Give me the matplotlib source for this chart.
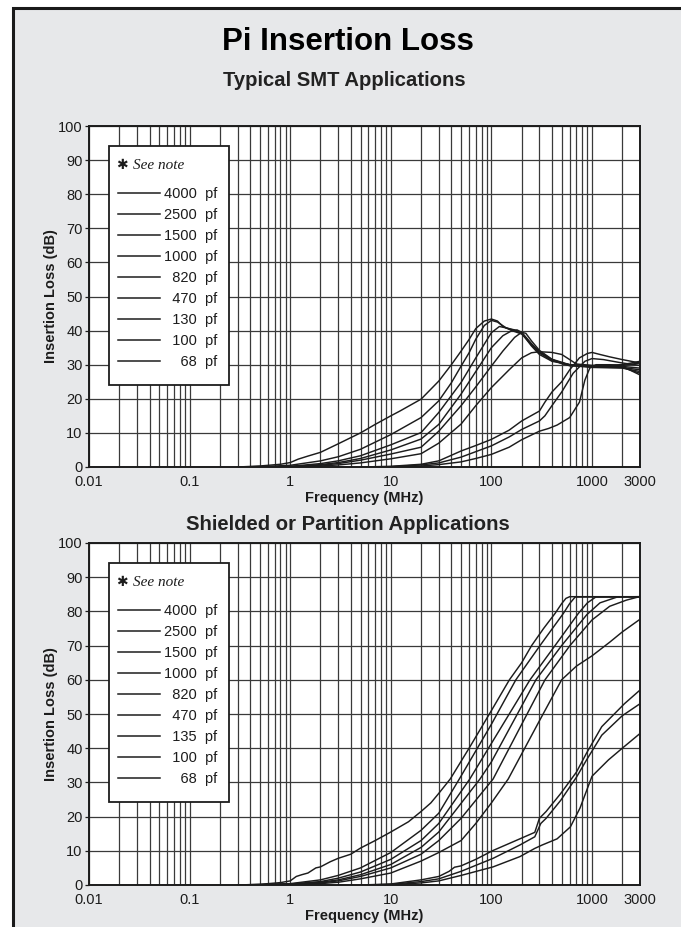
import numpy as np
import matplotlib
matplotlib.use('Agg')
import matplotlib.pyplot as plt
from matplotlib.patches import Rectangle
from matplotlib.ticker import LogLocator, NullFormatter

plt.rcParams['font.family'] = ['Liberation Sans', 'DejaVu Sans']

# curves: (frequency MHz, insertion loss dB)
# --- Typical SMT Applications ---
smt_4000 = [(0.3, 0), (0.5, 0.3), (0.8, 0.8), (1, 1.3), (1.2, 2.3), (1.5, 3.2), (2, 4.3), (3, 6.8),
            (5, 10), (7, 12.5), (10, 15), (12.3, 16.4), (20, 19.9), (30, 25.2), (40, 30), (50, 34),
            (60, 37.4), (70, 40.6), (85, 42.8), (100, 43.4), (115, 42.8), (130, 41.2), (160, 40),
            (200, 39), (250, 36), (300, 33.5), (400, 31.5), (500, 30.3), (600, 29.7), (800, 29.5),
            (1000, 29.6), (2000, 29.5), (3000, 29)]
smt_2500 = [(0.3, 0), (0.6, 0.2), (1, 0.5), (2, 1.8), (3, 3), (5, 5.2), (10, 9.5), (20, 14.5),
            (30, 19.4), (40, 24.7), (50, 29.6), (60, 33.5), (70, 37.5), (85, 41.5), (100, 43),
            (115, 42.5), (140, 40.8), (170, 40), (200, 39.2), (250, 35.5), (300, 33), (400, 31),
            (600, 30), (1000, 29.7), (2000, 29.8), (3000, 30.5)]
smt_1500 = [(0.4, 0), (1, 0.2), (2, 1), (3, 1.8), (5, 3.3), (10, 6.5), (20, 10.1), (30, 16),
            (50, 24.8), (70, 32), (100, 39.4), (120, 41.2), (140, 40.8), (170, 40.2), (200, 39.4),
            (250, 35.8), (300, 33.5), (400, 31.2), (600, 30), (1000, 29.5), (2000, 29.2), (3000, 28.5)]
smt_1000 = [(0.5, 0), (1, 0.1), (2, 0.7), (3, 1.3), (5, 2.5), (10, 5), (20, 8.2), (30, 12.5),
            (50, 21.4), (70, 28), (100, 35), (130, 38.5), (160, 40), (180, 40.2), (200, 39.5),
            (250, 36.2), (300, 33.8), (400, 31.5), (600, 29.8), (1000, 29.2), (2000, 29), (3000, 28)]
smt_820 = [(0.5, 0), (1, 0.1), (2, 0.5), (3, 1), (5, 2), (10, 3.8), (20, 5.8), (30, 10.5),
           (50, 18), (70, 23.5), (100, 29.6), (130, 34), (170, 38), (200, 39.5), (220, 39.2),
           (250, 37), (300, 34.2), (400, 31.6), (600, 30), (1000, 29.3), (2000, 29.2), (3000, 27.5)]
smt_470 = [(0.5, 0), (1, 0), (2, 0.3), (3, 0.6), (5, 1.2), (10, 2.4), (20, 3.9), (30, 7),
           (50, 12.6), (70, 18), (100, 23.3), (150, 28.5), (200, 32), (250, 33.5), (300, 33.8),
           (400, 33.6), (500, 33), (600, 31.5), (700, 30.2), (1000, 29.8), (2000, 30), (3000, 31)]
smt_130 = [(5, 0), (10, 0.2), (20, 0.8), (30, 1.8), (50, 4.7), (70, 6.3), (100, 8.1), (150, 10.8),
           (200, 13.5), (300, 16.4), (340, 19), (400, 22), (500, 25), (600, 28.5), (750, 32),
           (900, 33.3), (1000, 33.6), (1200, 33), (1500, 32.3), (2000, 31.5), (3000, 30.5)]
smt_100 = [(7, 0), (10, 0.1), (20, 0.6), (30, 1.2), (50, 2.9), (70, 4.5), (100, 6.2), (150, 8.8),
           (200, 11), (300, 13.5), (340, 15), (400, 18), (500, 22), (650, 27.5), (850, 31),
           (1000, 31.8), (1300, 31.5), (2000, 30.5), (3000, 29.8)]
smt_68 = [(8, 0), (20, 0.3), (30, 0.7), (50, 1.5), (70, 2.5), (100, 3.7), (150, 5.8), (200, 8),
          (300, 10.5), (370, 11.3), (450, 12.3), (600, 14.5), (750, 19), (850, 25.5), (950, 29),
          (1100, 30), (1500, 30), (2000, 29.5), (3000, 27)]
smt_labels = ['4000', '2500', '1500', '1000', '820', '470', '130', '100', '68']

# --- Shielded or Partition Applications ---
shd_4000 = [(0.3, 0), (0.5, 0.2), (0.8, 0.7), (1, 1.2), (1.15, 2.5), (1.3, 3), (1.5, 3.5), (1.8, 5),
            (2, 5.3), (2.5, 6.8), (3, 7.8), (4, 9), (5, 10.8), (7, 13), (10, 15.5), (15, 18.5),
            (20, 21.5), (25, 24), (30, 26.8), (39, 31), (60, 40), (100, 51), (151, 60), (200, 65),
            (251, 70), (330, 75), (429, 79.4), (500, 82.3), (550, 83.8), (600, 84.3), (3000, 84.3)]
shd_2500 = [(0.3, 0), (1, 0.4), (2, 1.5), (3, 2.8), (5, 5), (10, 9.5), (20, 16), (30, 21), (48, 31),
            (100, 47), (175, 60), (304, 70), (519, 79.4), (600, 82.3), (680, 84.2), (3000, 84.3)]
shd_1500 = [(0.4, 0), (1, 0.3), (2, 1), (3, 2), (5, 3.8), (10, 7.5), (20, 13), (30, 18), (61, 31),
            (100, 41.4), (242, 60), (429, 70), (731, 79.4), (900, 82.5), (1090, 84.2), (3000, 84.3)]
shd_1000 = [(0.5, 0), (1, 0.2), (2, 0.8), (3, 1.5), (5, 3), (10, 6), (20, 11), (30, 15.5), (77, 31),
            (100, 36), (277, 60), (499, 70), (885, 79), (1200, 82.5), (1780, 84.2), (3000, 84.3)]
shd_820 = [(0.5, 0), (1, 0.15), (2, 0.6), (3, 1.2), (5, 2.5), (10, 5), (20, 9), (30, 13), (50, 19.5),
           (104, 31), (341, 60), (603, 70), (1000, 77.5), (1500, 81.5), (2200, 83.3), (2870, 84.2),
           (3000, 84.3)]
shd_470 = [(0.5, 0), (1, 0.1), (2, 0.4), (3, 0.8), (5, 1.8), (10, 3.5), (20, 7), (30, 9.5), (50, 13),
           (70, 18), (100, 24), (147, 31), (300, 48), (499, 60), (700, 64), (1000, 67), (1500, 71),
           (2000, 74), (3000, 77.7)]
shd_135 = [(5, 0), (10, 0.3), (20, 1.5), (30, 2.5), (38, 4), (43, 5.2), (50, 5.6), (70, 7.5),
           (104, 10.1), (192, 13.5), (270, 15.4), (300, 19.5), (350, 21.5), (490, 26.8), (700, 33),
           (880, 38.5), (1250, 46.3), (2100, 53), (3000, 57)]
shd_100 = [(6, 0), (10, 0.2), (20, 1), (30, 1.8), (50, 4), (104, 7.8), (192, 11.7), (270, 14.1),
           (310, 18), (350, 19.5), (490, 24.8), (700, 31.5), (880, 36.5), (1250, 43.8), (2000, 49.5),
           (3000, 53)]
shd_68 = [(7, 0), (10, 0.1), (20, 0.6), (30, 1.2), (50, 2.8), (104, 5.3), (192, 8.3), (270, 10.7),
          (320, 11.7), (450, 13.5), (610, 17), (760, 22.5), (1000, 31.8), (1460, 36.6), (2000, 40),
          (3000, 44.3)]
shd_labels = ['4000', '2500', '1500', '1000', '820', '470', '135', '100', '68']

x_ticks = [0.01, 0.1, 1, 10, 100, 1000, 3000]
x_ticklabels = ['0.01', '0.1', '1', '10', '100', '1000', '3000']
y_ticks = list(range(0, 101, 10))

INK = '#1c1c1c'
GRID = '#3a3a3a'
W, H = 681.0, 927.0
AX_W = 551.0


def pad_label(val):
    # digits are twice as wide as a space, so pad with 2 spaces per missing digit
    return ' ' * (2 * (4 - len(val))) + val + '  pf'


def draw_key(ax, labels, ax_h):
    # key box, placed by pixel offsets from the top-left corner of the axes
    def pos(dx, dy):
        return dx / AX_W, 1 - dy / ax_h

    x0, y0 = pos(20, 20)
    x1, y1 = pos(140, 259)
    ax.add_patch(Rectangle((x0, y1), x1 - x0, y0 - y1, transform=ax.transAxes,
                           facecolor='white', edgecolor=INK, lw=1.3, zorder=5, clip_on=False))
    tx, ty = pos(27, 43)
    ax.text(tx, ty, '\u2731', transform=ax.transAxes, ha='left', va='baseline', fontsize=10,
            family=['DejaVu Sans'], color=INK, zorder=6)
    tx, ty = pos(44, 43)
    ax.text(tx, ty, 'See note', transform=ax.transAxes, ha='left', va='baseline',
            family=['Liberation Serif', 'DejaVu Serif'], style='italic', fontsize=11,
            color=INK, zorder=6)
    for i, lab in enumerate(labels):
        ly = 67 + 21 * i
        lx0, lyy = pos(29, ly)
        lx1, _ = pos(71, ly)
        ax.plot([lx0, lx1], [lyy, lyy], transform=ax.transAxes, color=INK, lw=1.1,
                zorder=6, clip_on=False)
        tx, ty = pos(128, ly + 5)
        ax.text(tx, ty, pad_label(lab), transform=ax.transAxes, ha='right', va='baseline',
                fontsize=10.5, color=INK, zorder=6)


def draw_panel(ax, curves, labels, ax_h):
    for pts in curves:
        f, db = np.array(pts, dtype=float).T
        ax.plot(f, db, color=INK, lw=1.05, zorder=3)

    ax.set_xscale('log')
    ax.set_xlim(0.01, 3000)
    ax.set_ylim(0, 100)
    ax.set_facecolor('white')

    ax.set_xticks(x_ticks)
    ax.set_xticklabels(x_ticklabels)
    ax.xaxis.set_minor_locator(LogLocator(base=10, subs=np.arange(2, 10), numticks=20))
    ax.xaxis.set_minor_formatter(NullFormatter())
    ax.set_yticks(y_ticks)

    ax.grid(True, which='both', axis='x', color=GRID, lw=0.9, zorder=1)
    ax.grid(True, which='major', axis='y', color=GRID, lw=0.9, zorder=1)
    ax.set_axisbelow(True)

    ax.tick_params(axis='x', which='both', length=0, pad=5.5, labelsize=10.5, colors=INK)
    ax.tick_params(axis='y', length=3, width=0.9, pad=1.5, labelsize=10.5, colors=INK)
    for sp in ax.spines.values():
        sp.set_color(INK)
        sp.set_linewidth(1.4)

    ax.set_xlabel('Frequency (MHz)', fontsize=10.5, fontweight='bold', color=INK, labelpad=1.5)
    ax.set_ylabel('Insertion Loss (dB)', fontsize=10.5, fontweight='bold', color=INK, labelpad=0)

    draw_key(ax, labels, ax_h)
    return ax


fig = plt.figure(figsize=(6.81, 9.27), dpi=100)
fig.patch.set_facecolor('white')

# grey panel with dark frame behind everything
fig.add_artist(Rectangle((12.5 / W, -0.01), 1.02, 1 - 7.5 / H + 0.01,
                         transform=fig.transFigure, facecolor='#e7e8ea',
                         edgecolor='#1a1a1a', lw=2.2, zorder=-10, clip_on=False))

ax1 = fig.add_axes([89 / W, 1 - 467 / H, AX_W / W, 341 / H])
ax2 = fig.add_axes([89 / W, 1 - 885 / H, AX_W / W, 342 / H])

draw_panel(ax1, [smt_4000, smt_2500, smt_1500, smt_1000, smt_820, smt_470,
                 smt_130, smt_100, smt_68], smt_labels, 341.0)
draw_panel(ax2, [shd_4000, shd_2500, shd_1500, shd_1000, shd_820, shd_470,
                 shd_135, shd_100, shd_68], shd_labels, 342.0)

fig.text(347.5 / W, 1 - 42 / H, 'Pi Insertion Loss', ha='center', va='center',
         fontsize=22.5, fontweight='bold', color='black')
fig.text(344 / W, 1 - 81 / H, 'Typical SMT Applications', ha='center', va='center',
         fontsize=14.6, fontweight='bold', color='#222222')
fig.text(348 / W, 1 - 525 / H, 'Shielded or Partition Applications', ha='center', va='center',
         fontsize=14.6, fontweight='bold', color='#222222')

fig.savefig('out.png', dpi=100, facecolor=fig.get_facecolor())
